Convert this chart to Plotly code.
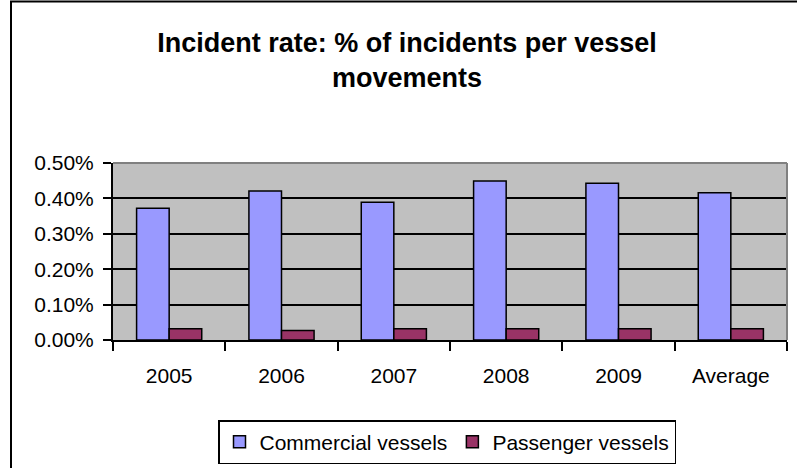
import plotly.graph_objects as go

CATEGORIES = ["2005", "2006", "2007", "2008", "2009", "Average"]
COMMERCIAL = [0.372, 0.421, 0.389, 0.449, 0.443, 0.416]
PASSENGER = [0.032, 0.027, 0.032, 0.032, 0.032, 0.032]
Y_TICKS = [0.0, 0.1, 0.2, 0.3, 0.4, 0.5]
Y_TICK_LABELS = [f"{v:.2f}%" for v in Y_TICKS]

W, H = 797, 468
L, R, T, B = 113, 10, 163, 128
PW, PH = W - L - R, H - T - B

FONT = "Liberation Sans, Arial, sans-serif"


def px_x(p):
    return (p - L) / PW


def px_y(p):
    return (H - B - p) / PH


fig = go.Figure()
fig.add_trace(go.Bar(
    x=CATEGORIES, y=COMMERCIAL, name="Commercial vessels",
    marker=dict(color="#9999FF", line=dict(color="black", width=1.5)),
))
fig.add_trace(go.Bar(
    x=CATEGORIES, y=PASSENGER, name="Passenger vessels",
    marker=dict(color="#993366", line=dict(color="black", width=1.5)),
))

fig.update_layout(
    width=W, height=H,
    margin=dict(l=L, r=R, t=T, b=B),
    paper_bgcolor="white", plot_bgcolor="#C0C0C0",
    font=dict(family=FONT, size=21, color="black"),
    barmode="group", bargap=0.42, bargroupgap=0,
    title=dict(
        text="<b>Incident rate: % of incidents per vessel<br>movements</b>",
        x=407 / W, xanchor="center", y=1 - 52 / H, yanchor="top",
        font=dict(family=FONT, size=27),
    ),
    xaxis=dict(
        showline=True, linecolor="black", linewidth=2,
        ticks="outside", tickson="boundaries", ticklen=9, tickcolor="black", tickwidth=1.5,
        showgrid=False, tickfont=dict(size=21), ticklabelstandoff=16,
    ),
    yaxis=dict(
        range=[0, 0.5], tickvals=Y_TICKS, ticktext=Y_TICK_LABELS,
        showline=True, linecolor="black", linewidth=2,
        ticks="outside", ticklen=8, tickcolor="black", tickwidth=1.5,
        showgrid=True, gridcolor="black", gridwidth=1.5,
        zeroline=False, tickfont=dict(size=21), ticklabelstandoff=5,
    ),
    legend=dict(
        orientation="h", xref="container", yref="container",
        x=447 / W, xanchor="center", y=1 - 420 / H, yanchor="top",
        bordercolor="black", borderwidth=1.5, bgcolor="white",
        font=dict(size=21), traceorder="normal", itemwidth=30,
    ),
    shapes=[
        # outer chart frame
        dict(type="rect", xref="paper", yref="paper",
             x0=px_x(11), x1=px_x(805), y0=px_y(480), y1=px_y(1.5),
             line=dict(color="black", width=2)),
        # plot area top/right border
        dict(type="line", xref="paper", yref="paper", x0=0, x1=1, y0=1, y1=1,
             line=dict(color="#808080", width=2)),
        dict(type="line", xref="paper", yref="paper", x0=1, x1=1, y0=0, y1=1,
             line=dict(color="#808080", width=2)),
    ],
)

fig.write_html(
    "out.html",
    config={"displayModeBar": False},
    post_script="document.body.style.margin = '0';",
)
